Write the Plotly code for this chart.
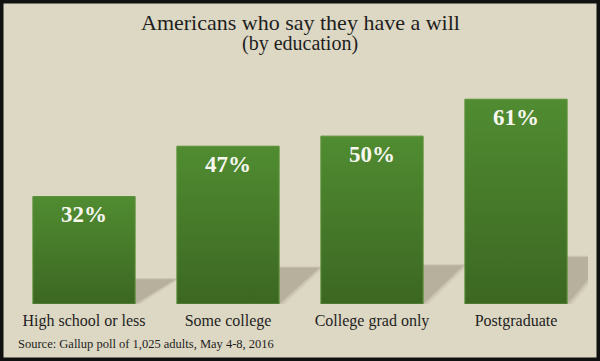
import plotly.graph_objects as go

categories = ["High school or less", "Some college", "College grad only", "Postgraduate"]
values = [32, 47, 50, 61]
value_labels = ["32%", "47%", "50%", "61%"]

title = "Americans who say they have a will"
subtitle = "(by education)"
source = "Source: Gallup poll of 1,025 adults, May 4-8, 2016"

W, H = 600, 361
ML, MR, MT, MB = 12, 12, 69, 57
BG = "#DDD8C4"
SERIF = "Liberation Serif"
BAR_W = 0.71
x_pos = list(range(len(categories)))

fig = go.Figure()
for xi, v, cat in zip(x_pos, values, categories):
    x0, x1 = xi - BAR_W / 2, xi + BAR_W / 2
    fig.add_trace(go.Scatter(
        x=[x0, x1, x1, x0, x0], y=[0, 0, v, v, 0],
        mode="lines", fill="toself", name=cat,
        line=dict(color="#5A9038", width=1),
        fillgradient=dict(type="vertical",
                          colorscale=[[0, "#3C6722"], [1, "#508C31"]]),
        hoverinfo="skip",
    ))

shapes = []
d = 0.28
for xi, v in zip(x_pos, values):
    hs = 0.23 * v
    x0, x1 = xi - BAR_W / 2, xi + BAR_W / 2
    for op, grow in [(0.06, 0.04), (0.08, 0.02), (0.12, 0.0)]:
        path = (f"M {x0} 0 L {x1 + grow} 0 L {x1 + d + grow} {hs + grow * 10} "
                f"L {x0 + d} {hs + grow * 10} Z")
        shapes.append(dict(type="path", path=path, xref="x", yref="y",
                           fillcolor=f"rgba(60,55,40,{op})", line=dict(width=0),
                           layer="below"))

pw = W - ML - MR
ph = H - MT - MB
shapes.append(dict(type="rect", xref="paper", yref="paper",
                   x0=-ML / pw, x1=1 + MR / pw, y0=-MB / ph, y1=1 + MT / ph,
                   line=dict(color="#111111", width=7), fillcolor="rgba(0,0,0,0)",
                   layer="above"))

annotations = []
for xi, v, lab in zip(x_pos, values, value_labels):
    annotations.append(dict(x=xi, y=v, xref="x", yref="y", text=f"<b>{lab}</b>",
                            showarrow=False, yanchor="middle", yshift=-18,
                            font=dict(family=SERIF, size=23, color="#F7F7F0")))

annotations += [
    dict(x=0.5, y=(H - MB - 23) / ph, xref="paper", yref="paper", text=title,
         showarrow=False, xanchor="center", yanchor="middle",
         font=dict(family=SERIF, size=22, color="#1e1e1e")),
    dict(x=0.5, y=(H - MB - 44) / ph, xref="paper", yref="paper", text=subtitle,
         showarrow=False, xanchor="center", yanchor="middle",
         font=dict(family=SERIF, size=20, color="#1e1e1e")),
    dict(x=(16 - ML) / pw, y=(H - MB - 344) / ph, xref="paper", yref="paper", text=source,
         showarrow=False, xanchor="left", yanchor="middle",
         font=dict(family=SERIF, size=12.5, color="#1e1e1e")),
]

fig.update_layout(
    width=W, height=H,
    margin=dict(l=ML, r=MR, t=MT, b=MB, pad=0),
    paper_bgcolor=BG, plot_bgcolor="rgba(0,0,0,0)",
    showlegend=False,
    shapes=shapes, annotations=annotations,
    xaxis=dict(range=[-0.5, 3.5], tickvals=x_pos, ticktext=categories,
               showgrid=False, zeroline=False, showline=False, ticks="",
               ticklabelstandoff=5,
               tickfont=dict(family=SERIF, size=16, color="#1e1e1e"), fixedrange=True),
    yaxis=dict(range=[0, 70], visible=False, fixedrange=True),
)

fig.write_html("out.html", config={"displayModeBar": False},
               post_script="document.body.style.margin='0';document.body.style.overflow='hidden';")
